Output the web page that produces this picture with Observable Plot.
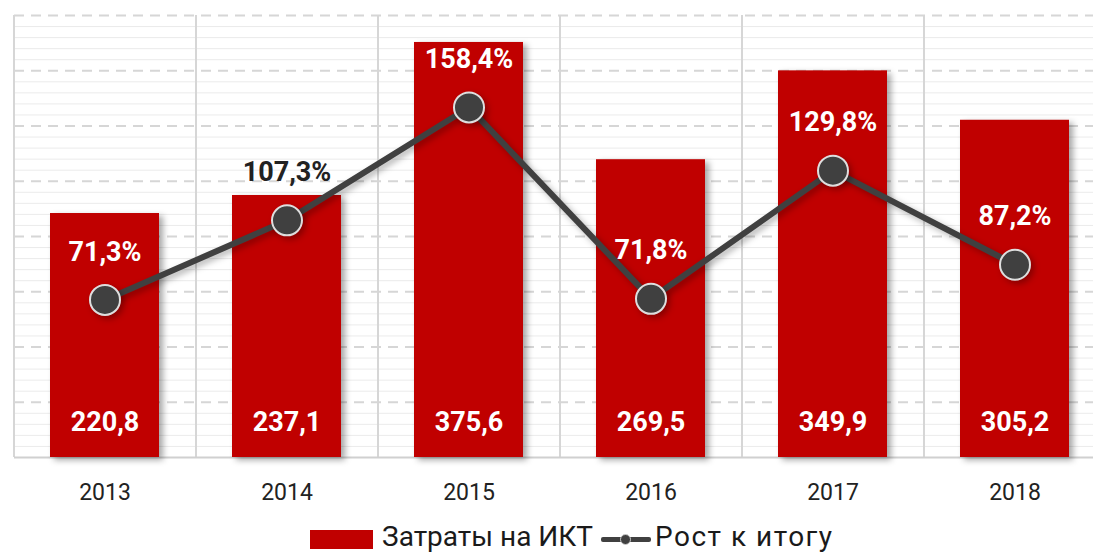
<!DOCTYPE html>
<html><head><meta charset="utf-8">
<script src="https://cdn.jsdelivr.net/npm/d3@7"></script>
<script src="https://cdn.jsdelivr.net/npm/@observablehq/plot@0.6"></script>
<style>
html,body{margin:0;padding:0;background:#fff;overflow:hidden;width:1093px;height:554px;}
#chart{position:absolute;left:0;top:0;width:1093px;height:520px;overflow:hidden;}
#legend{position:absolute;left:310px;top:521px;height:32px;line-height:32px;display:flex;align-items:center;font-family:Roboto,"Noto Sans",sans-serif;font-size:28px;color:#1a1a1a;white-space:nowrap;}
.sw{display:inline-block;width:63px;height:19px;background:#c00000;margin-right:9px;margin-top:4px;}
.ln{display:inline-block;position:relative;width:50px;height:20px;margin:4px 4px 0 8px;}
.ln:before{content:"";position:absolute;left:0;right:0;top:8px;height:5px;background:#404040;border-radius:2px;}
.ln:after{content:"";position:absolute;left:19px;top:5px;width:11px;height:11px;border-radius:50%;background:#404040;border:1px solid #ccc;box-sizing:border-box;}
.t2{letter-spacing:1.5px;}
</style></head>
<body>
<div id="chart"></div>
<div id="legend"><span class="sw"></span><span>Затраты на ИКТ</span><span class="ln"></span><span class="t2">Рост к итогу</span></div>
<script>
const years = ["2013","2014","2015","2016","2017","2018"];
const spending = [220.8, 237.1, 375.6, 269.5, 349.9, 305.2];
const growth = [71.3, 107.3, 158.4, 71.8, 129.8, 87.2];
const seriesNames = ["Затраты на ИКТ", "Рост к итогу"];

const fmt = v => v.toFixed(1).replace(".", ",");
const data = years.map((y, i) => ({year: y, value: spending[i], pct: growth[i]}));
const ratio = 400 / 200; // secondary axis 0–200% mapped onto primary 0–400
const font = "Roboto, 'Noto Sans', sans-serif";
const x0 = 14, x1 = 1106;
const step = (x1 - x0) / years.length;
const minor = d3.range(10, 400, 10).filter(v => v % 50 !== 0);
const major = d3.range(50, 401, 50);

const chart = Plot.plot({
  width: 1093, height: 520,
  marginLeft: 14, marginRight: 0, marginTop: 15, marginBottom: 63,
  style: {fontFamily: font, background: "#fff", overflow: "hidden"},
  x: {domain: years, range: [x0, x1], paddingInner: 0.4, paddingOuter: 0.2, axis: null},
  y: {domain: [0, 400], axis: null},
  marks: [
    Plot.ruleY(minor, {stroke: "#ebebeb", strokeWidth: 1}),
    Plot.ruleY(major, {stroke: "#d6d6d6", strokeWidth: 2, strokeDasharray: "10,7"}),
    Plot.ruleX(years, {x: d => d, y1: 0, y2: 400, dx: -step / 2, stroke: "#d6d6d6", strokeWidth: 2}),
    Plot.ruleY([0], {stroke: "#d0d0d0", strokeWidth: 2}),
    Plot.barY(data, {x: "year", y: "value", fill: "#c00000"}),
    Plot.text(data, {x: "year", y: 0, text: d => fmt(d.value), dy: -35, fill: "#fff", fontSize: 27, fontWeight: "bold"}),
    Plot.line(data, {x: "year", y: d => d.pct * ratio, stroke: "#404040", strokeWidth: 6}),
    Plot.dot(data, {x: "year", y: d => d.pct * ratio, r: 15, fill: "#404040", stroke: "#dedede", strokeWidth: 2}),
    Plot.text(data, {x: "year", y: d => d.pct * ratio, text: d => fmt(d.pct) + "%", dy: -48, fontSize: 27, fontWeight: "bold",
      fill: d => (d.pct * ratio + 43 < d.value ? "#fff" : "#222")}),
    Plot.text(years, {x: d => d, y: 0, text: d => d, dy: 35, fontSize: 23, fill: "#222"})
  ]
});
document.getElementById("chart").appendChild(chart);
const svg = d3.select(chart);
svg.selectAll('g[aria-label="bar"]').style("filter", "drop-shadow(4px 3px 3px rgba(0,0,0,0.35))");
svg.selectAll('g[aria-label="line"]').style("filter", "drop-shadow(3px 3px 3px rgba(0,0,0,0.3))");
svg.selectAll('g[aria-label="dot"]').style("filter", "drop-shadow(3px 3px 3px rgba(0,0,0,0.3))");
</script>
</body></html>
